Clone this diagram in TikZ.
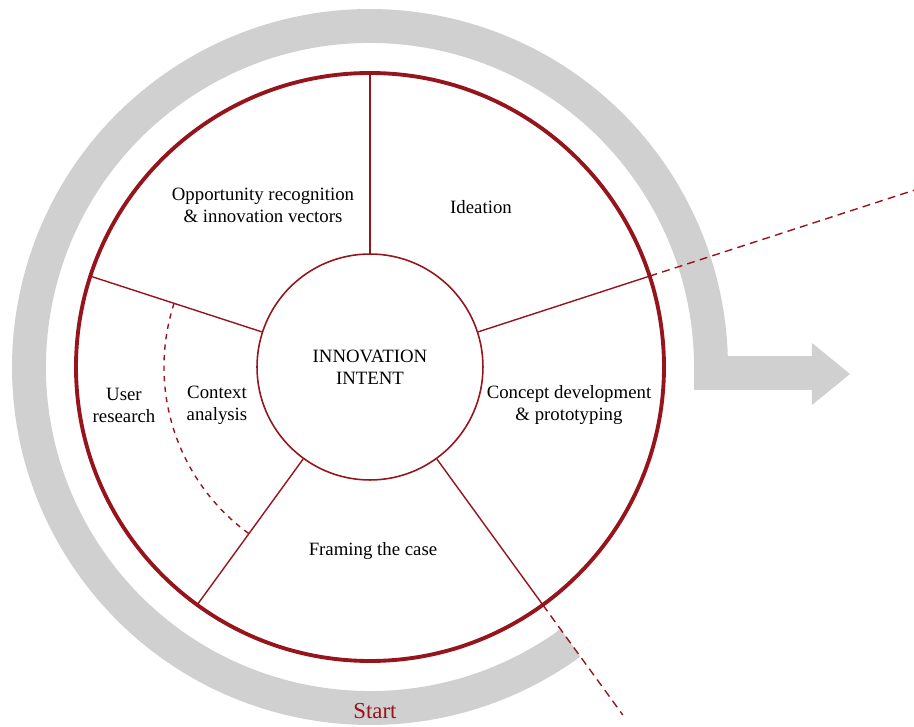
\documentclass[tikz,border=0pt]{standalone}
\usepackage{fontspec}
\setmainfont{Liberation Serif}
\definecolor{wheelred}{RGB}{150,20,28}
\definecolor{bandgrey}{RGB}{208,208,208}

\begin{document}
\begin{tikzpicture}[x=0.02cm,y=0.02cm,
  rim/.style={draw=wheelred,line width=2.2pt},
  spoke/.style={draw=wheelred,line width=0.8pt},
  farspoke/.style={draw=wheelred,line width=0.8pt,dash pattern=on 4.5pt off 3pt},
  band/.style={draw=bandgrey,line width=19.3pt,line join=miter},
  txt/.style={align=center,font=\fontsize{10.7}{12.5}\selectfont}]
\useasboundingbox (-370,-360) rectangle (544,367);
% grey band and arrow
\draw[band] (-54:341) arc (-54:-360:341) -- (341,-6) -- (442,-6);
\fill[bandgrey] (442,24) -- (480,-7) -- (442,-38) -- cycle;
% wheel
\draw[rim] (0,0) circle (294);
\node[circle,draw=wheelred,line width=0.9pt,minimum size=4.52cm,inner sep=0pt,txt] (intent) at (0,0) {INNOVATION\\INTENT};
\foreach \a in {90,18,-54,-126,162}
  \draw[spoke] (intent.\a) -- (\a:294);
\draw[farspoke] (18:294) -- (18:572);
\draw[farspoke] (-54:294) -- (-54:430);
\draw[spoke,dashed] (162:206) arc (162:234:206);
% labels
\node[txt] (opport) at (-107,162) {Opportunity recognition\\\& innovation vectors};
\node[txt] (ideation) at (111,160) {Ideation};
\node[txt] (concept) at (199,-38) {Concept development\\\& prototyping};
\node[txt] (framing) at (3,-184) {Framing the case};
\node[txt] (user) at (-246,-38) {User\\research};
\node[txt] (context) at (-153,-38) {Context\\analysis};
\node[txt,text=wheelred,font=\fontsize{13}{15}\selectfont] (start) at (5,-344) {Start};
\end{tikzpicture}
\end{document}
